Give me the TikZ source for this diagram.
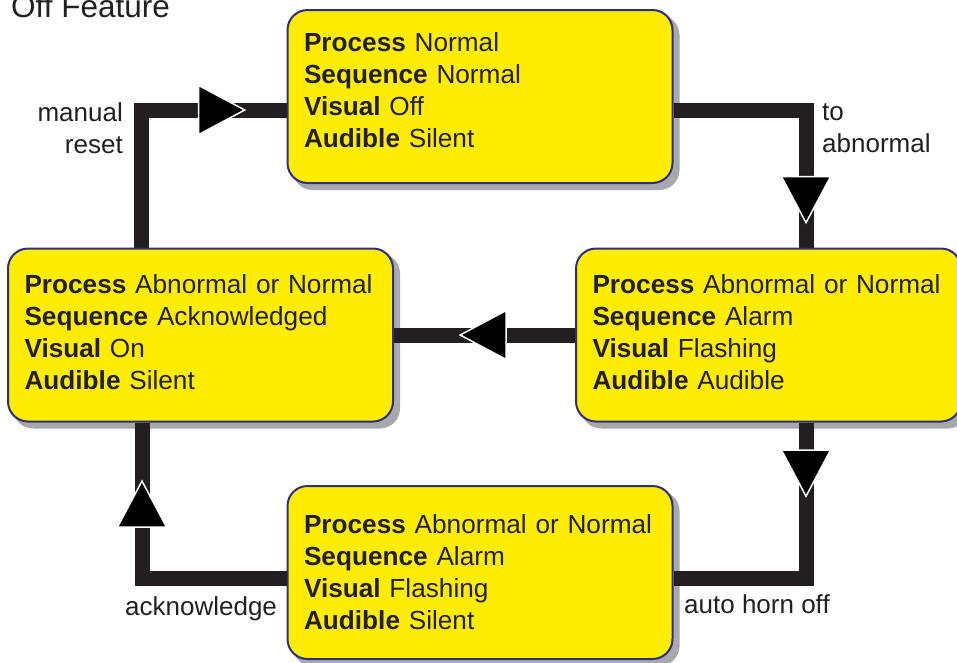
\documentclass[tikz,border=0pt]{standalone}
\usepackage{fontspec}
\setmainfont{Liberation Sans}
\usetikzlibrary{positioning, decorations.markings, backgrounds}
\definecolor{wirecol}{HTML}{231F20}
\definecolor{boxfill}{HTML}{FFED00}
\definecolor{boxline}{HTML}{2E2D7F}
\definecolor{shadowcol}{HTML}{A7A9AC}
\definecolor{textcol}{HTML}{231F20}
\pgfdeclarelayer{shade}
\pgfsetlayers{shade,background,main}
\newcommand{\boxpad}[1]{\rule[-#1]{0pt}{0pt}}
\newcommand{\row}[2]{\mbox{\textbf{#1} #2}}
\tikzset{
    state/.style={rectangle, draw=boxline, line width=2pt, rounded corners=20pt, fill=boxfill, text=textcol, text width=352pt, align=left, inner xsep=16.5pt, minimum width=385pt, minimum height=173pt, font=\fontsize{26.2}{32}\selectfont},
    wire/.style={draw=wirecol, line width=15pt, line join=miter},
    flow/.style={postaction={decorate}, decoration={markings, mark=at position #1 with {\filldraw[fill=black, draw=white, line width=1.5pt] (23,0) -- (-23,24.5) -- (-23,-24.5) -- cycle;}}},
    note/.style={text=textcol, inner sep=0pt, font=\fontsize{26}{32}\selectfont}
}

\begin{document}
\begin{tikzpicture}[x=1pt, y=-1pt]
            \useasboundingbox (0,0) rectangle (957,662);

            \node[state] (normal) at (480,96.5) {\row{Process}{Normal}\\ \row{Sequence}{Normal}\\ \row{Visual}{Off}\\ \row{Audible}{Silent}\boxpad{13pt}};
            \node[state] (ackd) at (200.5,335) {\row{Process}{Abnormal or Normal}\\ \row{Sequence}{Acknowledged}\\ \row{Visual}{On}\\ \row{Audible}{Silent}\boxpad{7pt}};
            \node[state] (alarm) [right=181pt of ackd] {\row{Process}{Abnormal or Normal}\\ \row{Sequence}{Alarm}\\ \row{Visual}{Flashing}\\ \row{Audible}{Audible}\boxpad{6pt}};
            \node[state] (silent) [below=301pt of normal] {\row{Process}{Abnormal or Normal}\\ \row{Sequence}{Alarm}\\ \row{Visual}{Flashing}\\ \row{Audible}{Silent}\boxpad{2pt}};

            % bends of the connectors
            \coordinate (resetbend) at (141,110);
            \coordinate (abnbend) at (806,110);
            \coordinate (hornbend) at (806,578);
            \coordinate (ackbend) at (142,578);

            \begin{pgfonlayer}{shade}
                \foreach \s in {normal, ackd, alarm, silent}
                    \fill[shadowcol, rounded corners=20pt] ([shift={(6,6)}]\s.south west) rectangle ([shift={(6,6)}]\s.north east);
            \end{pgfonlayer}

            \begin{scope}[on background layer]
                \draw[wire, flow=0.771] (ackd.north -| resetbend) |- (normal.west |- resetbend);
                \draw[wire, flow=0.823] (normal.east |- abnbend) -| (alarm.north -| abnbend);
                \draw[wire, flow=0.507] (alarm.west) -- (ackd.east);
                \draw[wire, flow=0.176] (alarm.south -| hornbend) |- (silent.east |- hornbend);
                \draw[wire, flow=0.728] (silent.west |- ackbend) -| (ackd.south -| ackbend);
            \end{scope}

            \node[note, align=right, anchor=east] (manual) at (123,128) {manual\\reset};
            \node[note, align=left, anchor=west] (toabn) at (822,128) {to\\abnormal};
            \node[note, anchor=base west] (ack) at (125,615) {acknowledge};
            \node[note, anchor=base west] (horn) at (684,613) {auto horn off};
            \node[note, font=\fontsize{31.5}{36}\selectfont, anchor=base west] (title) at (11,17) {Off Feature};
        \end{tikzpicture}
\end{document}
